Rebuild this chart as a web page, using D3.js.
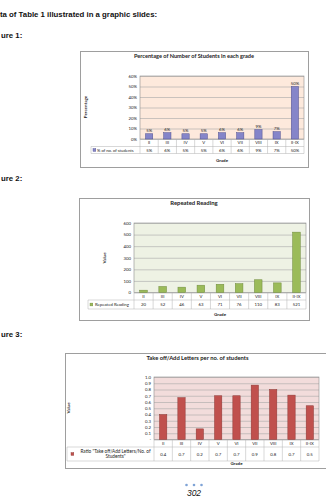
<!DOCTYPE html>
<html>
<head>
<meta charset="utf-8">
<script src="https://cdn.jsdelivr.net/npm/d3@7/dist/d3.min.js"></script>
<style>
  body { margin: 0; background: #fff; }
  svg { display: block; }
  .chart text { font-family: Lato, "Liberation Sans", sans-serif; fill: #222; }
  .page text { font-family: "Liberation Sans", Arial, sans-serif; fill: #111; }
</style>
</head>
<body>
<div id="page"></div>
<script>
const grades = ['II', 'III', 'IV', 'V', 'VI', 'VII', 'VIII', 'IX', 'II-IX'];
const percentStudents = [5, 6, 5, 5, 6, 6, 9, 7, 50];
const repeatedReading = [20, 52, 46, 63, 71, 76, 110, 83, 521];
const takeOffRatio = [0.40, 0.67, 0.17, 0.70, 0.70, 0.87, 0.80, 0.71, 0.54];
const pctTicks = [0, 10, 20, 30, 40, 50, 60];
const readingTicks = [0, 100, 200, 300, 400, 500, 600];
const ratioTicks = [0, 0.1, 0.2, 0.3, 0.4, 0.5, 0.6, 0.7, 0.8, 0.9, 1.0];

const svg = d3.select('#page').append('svg')
  .attr('width', 326).attr('height', 500);

const page = svg.append('g').attr('class', 'page');
page.append('text').attr('x', 0).attr('y', 17)
  .attr('font-size', 7.8).attr('font-weight', 'bold')
  .text('ta of Table 1 illustrated in a graphic slides:');
[['ure 1:', 38], ['ure 2:', 181], ['ure 3:', 337]].forEach(([t, y]) => {
  page.append('text').attr('x', 1).attr('y', y)
    .attr('font-size', 7.8).attr('font-weight', 'bold').text(t);
});

function drawFigure(o) {
  const g = svg.append('g').attr('class', 'chart');
  const [bx0, by0, bx1, by1] = o.box;
  const { left, right, top, bottom } = o.plot;

  g.append('rect')
    .attr('x', bx0 + 0.5).attr('y', by0 + 0.5)
    .attr('width', bx1 - bx0).attr('height', by1 - by0)
    .attr('fill', '#fff').attr('stroke', '#9e9e9e');

  g.append('text')
    .attr('x', (bx0 + bx1) / 2).attr('y', o.titleY)
    .attr('text-anchor', 'middle').attr('font-weight', 'bold')
    .attr('font-size', o.titleSize).text(o.title);

  const x = d3.scaleBand().domain(grades).range([left, right])
    .paddingInner(0.6).paddingOuter(0.3);
  const y = d3.scaleLinear().domain(o.domain).range([bottom, top]);
  const step = x.step();
  const colEdge = i => left + i * step;

  g.append('rect')
    .attr('x', left).attr('y', top)
    .attr('width', right - left).attr('height', bottom - top)
    .attr('fill', o.bg);

  const grid = g.append('g')
    .attr('transform', `translate(${left},0)`)
    .call(d3.axisLeft(y).tickValues(o.ticks).tickSize(-(right - left)).tickFormat(''));
  grid.select('.domain').remove();
  grid.selectAll('line').attr('stroke', '#a8a8a8').attr('stroke-width', 0.6);

  const yAxis = g.append('g')
    .attr('transform', `translate(${left},0)`)
    .call(d3.axisLeft(y).tickValues(o.ticks).tickSize(0).tickPadding(3).tickFormat(o.fmt));
  yAxis.select('.domain').remove();
  yAxis.selectAll('text').attr('font-size', 4.3).attr('font-family', null);

  g.append('rect')
    .attr('x', left).attr('y', top)
    .attr('width', right - left).attr('height', bottom - top)
    .attr('fill', 'none').attr('stroke', '#8c8c8c').attr('stroke-width', 0.6);

  g.append('g').selectAll('rect').data(o.values).join('rect')
    .attr('x', (d, i) => x(grades[i]))
    .attr('y', d => y(d))
    .attr('width', x.bandwidth())
    .attr('height', d => y(o.domain[0]) - y(d))
    .attr('fill', o.color).attr('stroke', o.stroke).attr('stroke-width', 0.5);

  if (o.barLabels) {
    g.append('g').selectAll('text').data(o.values).join('text')
      .attr('x', (d, i) => x(grades[i]) + x.bandwidth() / 2)
      .attr('y', d => y(d) - 2)
      .attr('text-anchor', 'middle').attr('font-size', 4.3)
      .text(o.cellFmt);
  }

  // data table under the plot
  const [r0, r1, r2] = o.rows;
  const t = g.append('g').attr('stroke', '#b0b0b0').attr('stroke-width', 0.5);
  t.append('line').attr('x1', o.legendLeft).attr('x2', right).attr('y1', r1).attr('y2', r1);
  t.append('line').attr('x1', o.legendLeft).attr('x2', right).attr('y1', r2).attr('y2', r2);
  t.append('line').attr('x1', o.legendLeft).attr('x2', o.legendLeft).attr('y1', r1).attr('y2', r2);
  t.selectAll('.col').data(d3.range(grades.length + 1)).join('line')
    .attr('x1', colEdge).attr('x2', colEdge)
    .attr('y1', r0).attr('y2', r2);

  g.append('g').selectAll('text').data(grades).join('text')
    .attr('x', (d, i) => colEdge(i) + step / 2)
    .attr('y', (r0 + r1) / 2 + 1.5)
    .attr('text-anchor', 'middle').attr('font-size', 4.3).text(d => d);

  g.append('g').selectAll('text').data(o.values).join('text')
    .attr('x', (d, i) => colEdge(i) + step / 2)
    .attr('y', (r1 + r2) / 2 + 1.5)
    .attr('text-anchor', 'middle').attr('font-size', 4.3).text(o.cellFmt);

  g.append('rect')
    .attr('x', o.keyX).attr('y', (r1 + r2) / 2 - 1.4)
    .attr('width', 2.8).attr('height', 2.8)
    .attr('fill', o.color).attr('stroke', o.stroke).attr('stroke-width', 0.4);
  const lt = g.append('text')
    .attr('font-size', o.legendSize || 4.3).attr('text-anchor', o.legendAnchor || 'start');
  o.legendLines.forEach((line, i) => {
    lt.append('tspan').attr('x', o.legendTextX)
      .attr('y', o.legendTextY + i * 5.2).text(line);
  });

  g.append('text')
    .attr('transform', `translate(${o.yTitle[0]},${o.yTitle[1]}) rotate(-90)`)
    .attr('text-anchor', 'middle').attr('font-weight', 'bold')
    .attr('font-size', 4.5).text(o.yLabel);

  g.append('text')
    .attr('x', (left + right) / 2).attr('y', o.xTitleY)
    .attr('text-anchor', 'middle').attr('font-weight', 'bold')
    .attr('font-size', 4.5).text('Grade');
}

drawFigure({
  box: [80, 51, 308, 167],
  plot: { left: 140, right: 304, top: 76, bottom: 139 },
  title: 'Percentage of Number of Students in each grade', titleY: 57.5, titleSize: 5.6,
  values: percentStudents, domain: [0, 60], ticks: pctTicks,
  fmt: d => d + '%', cellFmt: d => d + '%', barLabels: true,
  color: '#8585c9', stroke: '#50508f', bg: '#fde9dc',
  rows: [139, 146.5, 153.5], legendLeft: 91, keyX: 93,
  legendLines: ['% of no. of students'], legendTextX: 97, legendTextY: 151.5,
  legendSize: 4.2,
  yLabel: 'Percentage', yTitle: [87, 107], xTitleY: 161.5
});

drawFigure({
  box: [79, 198, 309, 320],
  plot: { left: 134, right: 306, top: 223, bottom: 292.5 },
  title: 'Repeated Reading', titleY: 205, titleSize: 5.9,
  values: repeatedReading, domain: [0, 600], ticks: readingTicks,
  fmt: d3.format('d'), cellFmt: d3.format('d'), barLabels: false,
  color: '#9bbb59', stroke: '#6f8a3c', bg: '#eef2e4',
  rows: [292.5, 300, 309], legendLeft: 88, keyX: 90,
  legendLines: ['Repeated Reading'], legendTextX: 95, legendTextY: 306,
  yLabel: 'Value', yTitle: [106, 258], xTitleY: 315.5
});

drawFigure({
  box: [65, 353, 330, 468],
  plot: { left: 154, right: 319, top: 377, bottom: 439.5 },
  title: 'Take off/Add Letters per no. of students', titleY: 359.5, titleSize: 5.8,
  values: takeOffRatio, domain: [0, 1], ticks: ratioTicks,
  fmt: d => d === 0 ? '-' : d3.format('.1f')(d), cellFmt: d3.format('.1f'), barLabels: false,
  color: '#c0504d', stroke: '#8e3936', bg: '#f2dcdb',
  rows: [439.5, 447, 461], legendLeft: 67, keyX: 71,
  legendLines: ['Ratio "Take off/Add Letters/No. of', 'Students"'],
  legendAnchor: 'middle', legendTextX: 115.5, legendTextY: 452.5, legendSize: 4.7,
  yLabel: 'Value', yTitle: [70, 408], xTitleY: 464.5
});

const foot = svg.append('g').attr('class', 'page');
foot.selectAll('circle').data([-7.5, 0, 7.5]).join('circle')
  .attr('cx', d => 194 + d).attr('cy', 485).attr('r', 1.3).attr('fill', '#7ea3d6');
foot.append('text').attr('x', 194).attr('y', 495.5)
  .attr('text-anchor', 'middle').attr('font-size', 8.5).attr('font-style', 'italic')
  .attr('fill', '#333').text('302');
</script>
</body>
</html>
